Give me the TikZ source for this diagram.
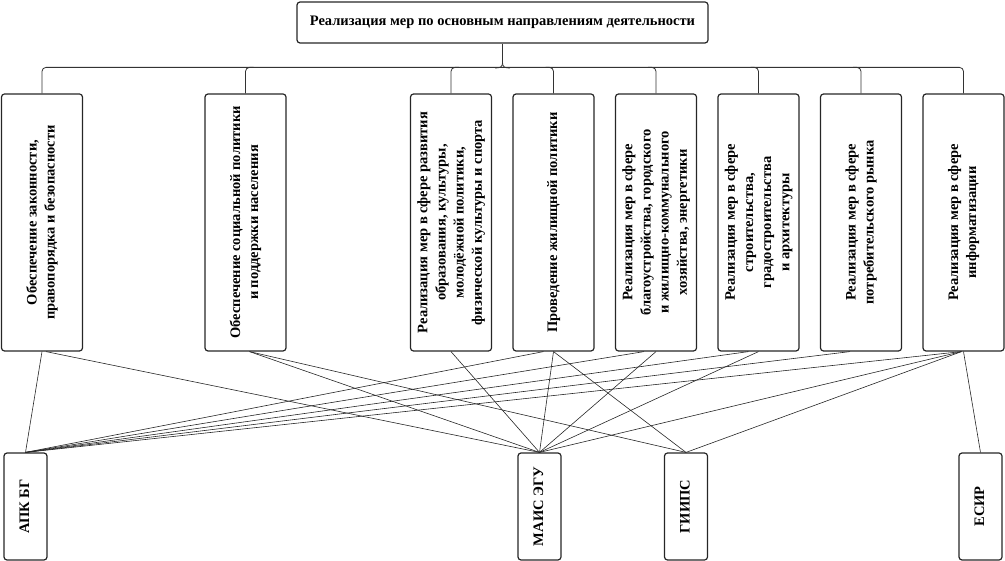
\documentclass[tikz,border=0pt]{standalone}
\usepackage{fontspec}
\setmainfont{Liberation Serif}
\usetikzlibrary{calc}
\newcommand\rottext[1]{\rotatebox{90}{\begin{tabular}{@{}c@{}}#1\end{tabular}}}
\begin{document}
\begin{tikzpicture}[x=1pt,y=-1pt,
  boxfont/.style={font=\bfseries\fontsize{14.5}{18.2}\selectfont},
  upbox/.style={draw=black!85, line width=1.2pt, rounded corners=3pt, minimum width=81pt, minimum height=257pt, inner sep=0pt, boxfont},
  lowbox/.style={draw=black!85, line width=1.2pt, rounded corners=3pt, minimum width=43pt, minimum height=107pt, inner sep=0pt, boxfont},
  topbox/.style={draw=black!85, line width=1.2pt, rounded corners=3pt, minimum width=411pt, minimum height=41pt, inner sep=0pt, boxfont},
  brace/.style={draw=black!80, line width=0.8pt, rounded corners=4pt},
  link/.style={draw=black!85, line width=0.6pt}
]
\useasboundingbox (0,0) rectangle (1005,561);

\node[topbox] (top) at (502.5,22.5) {Реализация мер по основным направлениям деятельности};

\node[upbox] (b1) at (42,222.5) {\rottext{Обеспечение законности,\\правопорядка и безопасности}};
\node[upbox] (b2) at (245.5,222.5) {\rottext{Обеспечение социальной политики\\и поддержки населения}};
\node[upbox] (b3) at (451,222.5) {\rottext{Реализация мер в сфере развития\\образования, культуры,\\молодёжной политики,\\физической культуры и спорта}};
\node[upbox] (b4) at (553.5,222.5) {\rottext{Проведение жилищной политики}};
\node[upbox] (b5) at (656,222.5) {\rottext{Реализация мер в сфере\\благоустройства, городского\\и жилищно-коммунального\\хозяйства, энергетики}};
\node[upbox] (b6) at (758.5,222.5) {\rottext{Реализация мер в сфере\\строительства,\\градостроительства\\и архитектуры}};
\node[upbox] (b7) at (861,222.5) {\rottext{Реализация мер в сфере\\потребительского рынка}};
\node[upbox] (b8) at (963.5,222.5) {\rottext{Реализация мер в сфере\\информатизации}};

\node[lowbox] (apk) at (25.5,506.5) {\rottext{АПК БГ}};
\node[lowbox] (mais) at (539.5,506.5) {\rottext{МАИС ЭГУ}};
\node[lowbox] (giips) at (686,506.5) {\rottext{ГИИПС}};
\node[lowbox] (esir) at (980.5,506.5) {\rottext{ЕСИР}};

% brace
\coordinate (tip) at (502.5,63);
\draw[brace] (top.south) -- (tip);
\draw[brace] (b1.north) |- ($(b8.north)+(0,-26)$) -- (b8.north);
\draw[line width=0.8pt, black!80] (tip) .. controls (502.5,67) and (500,68) .. (495,68);
\draw[line width=0.8pt, black!80] (tip) .. controls (502.5,67) and (505,68) .. (510,68);
\draw[brace] (b2.north) |- ++(8,-26);
\draw[brace] (b3.north) |- ++(8,-26);
\draw[brace] (b4.north) |- ++(-8,-26);
\draw[brace] (b5.north) |- ++(-8,-26);
\draw[brace] (b6.north) |- ++(-8,-26);
\draw[brace] (b7.north) |- ++(-8,-26);

% connectors
\draw[link] (b1.south) -- (apk.north);
\draw[link] ($(b1.south)+(4,0)$) -- (mais.north);
\draw[link] ($(b2.south)+(4,0)$) -- (mais.north);
\draw[link] ($(b2.south)+(4,0)$) -- (giips.north);
\draw[link] (b3.south) -- (mais.north);
\draw[link] ($(b4.south)+(-10,0)$) -- (apk.north);
\draw[link] (b4.south) -- (mais.north);
\draw[link] (b4.south) -- (giips.north);
\draw[link] ($(b5.south)+(-12,0)$) -- (apk.north);
\draw[link] (b5.south) -- (mais.north);
\draw[link] ($(b6.south)+(-10,0)$) -- (apk.north);
\draw[link] (b6.south) -- (mais.north);
\draw[link] ($(b7.south)+(-11,0)$) -- (apk.north);
\draw[link] ($(b8.south)+(-2,0)$) -- (apk.north);
\draw[link] ($(b8.south)+(-2,0)$) -- (mais.north);
\draw[link] ($(b8.south)+(-2,0)$) -- (giips.north);
\draw[link] (b8.south) -- (esir.north);
\end{tikzpicture}
\end{document}
